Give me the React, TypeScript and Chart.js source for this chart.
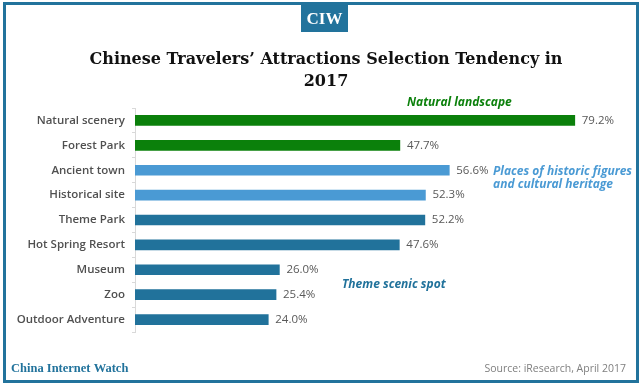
import React, { useEffect, useRef } from "react";
import { Chart, registerables } from "chart.js";

Chart.register(...registerables);

const categories = [
  "Natural scenery",
  "Forest Park",
  "Ancient town",
  "Historical site",
  "Theme Park",
  "Hot Spring Resort",
  "Museum",
  "Zoo",
  "Outdoor Adventure",
];
const values = [79.2, 47.7, 56.6, 52.3, 52.2, 47.6, 26.0, 25.4, 24.0];
const groupIndex = [0, 0, 1, 1, 2, 2, 2, 2, 2];
const groupColors = ["#0b800b", "#4a9ad4", "#21729b"];
const titleLines = ["Chinese Travelers\u2019 Attractions Selection Tendency in", "2017"];
const brandText = "CIW";
const footerLeft = "China Internet Watch";
const footerRight = "Source: iResearch, April 2017";
const groupNotes = [
  ["Natural landscape"],
  ["Places of historic figures", "and cultural heritage"],
  ["Theme scenic spot"],
];

const FRAME = "#22739c";

const decorPlugin = {
  id: "decor",
  beforeDraw(chart: any) {
    const ctx = chart.ctx;
    ctx.save();
    ctx.fillStyle = "#ffffff";
    ctx.fillRect(0, 0, chart.width, chart.height);
    ctx.restore();
  },
  afterDatasetsDraw(chart: any) {
    const ctx = chart.ctx;
    ctx.save();
    const meta = chart.getDatasetMeta(0);
    ctx.font = "11.5px 'Open Sans'";
    ctx.fillStyle = "#595959";
    ctx.textAlign = "left";
    ctx.textBaseline = "middle";
    meta.data.forEach((bar: any, i: number) => {
      ctx.fillText(values[i].toFixed(1) + "%", bar.x + 7, bar.y);
    });
    ctx.restore();
  },
  afterDraw(chart: any) {
    const ctx = chart.ctx;
    ctx.save();
    ctx.strokeStyle = FRAME;
    ctx.lineWidth = 3;
    ctx.strokeRect(4.5, 3.5, 633, 378);
    ctx.fillStyle = FRAME;
    ctx.fillRect(301, 3, 47, 29);
    ctx.fillStyle = "#ffffff";
    ctx.font = "bold 17px 'Liberation Serif'";
    ctx.textAlign = "center";
    ctx.textBaseline = "alphabetic";
    ctx.fillText(brandText, 324.5, 24);
    ctx.fillStyle = "#111111";
    ctx.font = "bold 16px 'DejaVu Serif'";
    ctx.fillText(titleLines[0], 326, 64);
    ctx.fillText(titleLines[1], 326, 86);
    ctx.font = "italic bold 12px 'Open Sans'";
    ctx.textBaseline = "middle";
    ctx.textAlign = "left";
    ctx.fillStyle = groupColors[0];
    ctx.fillText(groupNotes[0][0], 407, 103);
    ctx.fillStyle = groupColors[1];
    ctx.fillText(groupNotes[1][0], 493, 172);
    ctx.fillText(groupNotes[1][1], 493, 185);
    ctx.fillStyle = groupColors[2];
    ctx.fillText(groupNotes[2][0], 342, 285);
    ctx.textBaseline = "alphabetic";
    ctx.fillStyle = FRAME;
    ctx.font = "bold 12.5px 'Liberation Serif'";
    ctx.textAlign = "left";
    ctx.fillText(footerLeft, 11, 372);
    ctx.fillStyle = "#7f7f7f";
    ctx.font = "10.5px 'Open Sans'";
    ctx.textAlign = "right";
    ctx.fillText(footerRight, 626, 372);
    ctx.restore();
  },
};

export default function App() {
  const ref = useRef<HTMLCanvasElement | null>(null);
  useEffect(() => {
    document.body.style.margin = "0";
    if (!ref.current) return;
    const chart = new Chart(ref.current, {
      type: "bar",
      data: {
        labels: categories,
        datasets: [
          {
            data: values,
            backgroundColor: groupIndex.map((g) => groupColors[g]),
            borderColor: groupIndex.map((g) => groupColors[g]),
            borderWidth: 0,
            barThickness: 10,
          },
        ],
      },
      options: {
        indexAxis: "y",
        responsive: false,
        animation: false,
        layout: { padding: { top: 108, bottom: 51, left: 0, right: 33 } },
        plugins: {
          legend: { display: false },
          tooltip: { enabled: false },
          title: { display: false },
        },
        scales: {
          x: { display: false, min: 0, max: 85 },
          y: {
            afterFit(scale: any) {
              scale.width = 135;
            },
            border: { display: true, color: "#d9d9d9", width: 1 },
            grid: {
              drawOnChartArea: false,
              drawTicks: true,
              tickLength: 3,
              color: "#d9d9d9",
              offset: true,
            },
            ticks: {
              color: "#505050",
              padding: 7,
              font: { family: "'Open Sans'", size: 11.5, weight: "600" },
            },
          },
        },
      },
      plugins: [decorPlugin],
    });
    return () => chart.destroy();
  }, []);
  return (
    <div style={{ position: "absolute", left: 0, top: 0, width: 640, height: 383 }}>
      <canvas ref={ref} width={640} height={383} style={{ width: 640, height: 383 }} />
    </div>
  );
}
